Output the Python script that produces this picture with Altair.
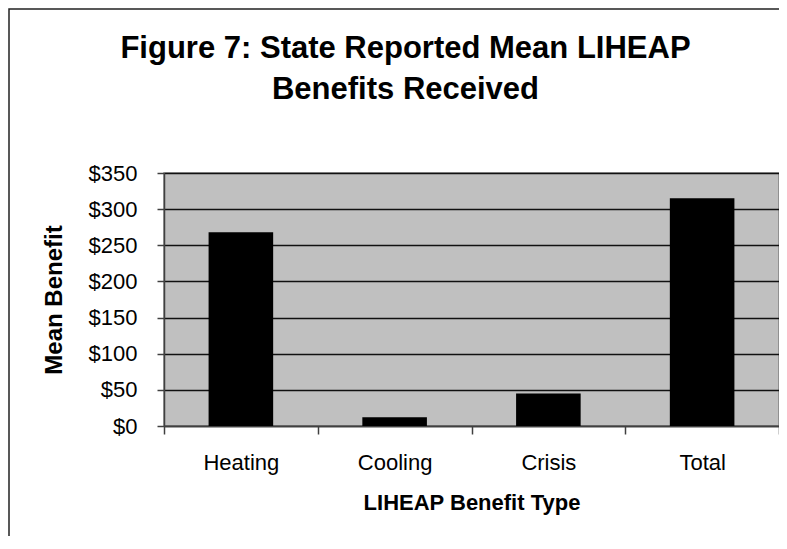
import altair as alt
import pandas as pd

categories = ["Heating", "Cooling", "Crisis", "Total"]
mean_benefit = [268, 12, 45, 315]
y_ticks = [0, 50, 100, 150, 200, 250, 300, 350]
title_lines = ["Figure 7: State Reported Mean LIHEAP", "Benefits Received"]

df = pd.DataFrame({"type": categories, "benefit": mean_benefit})
FONT = "Liberation Sans"

bars = alt.Chart(df).mark_bar(color="black", width=alt.RelativeBandSize(0.42)).encode(
    x=alt.X(
        "type:N",
        sort=categories,
        scale=alt.Scale(paddingInner=0, paddingOuter=0),
        axis=alt.Axis(
            title="LIHEAP Benefit Type",
            labelAngle=0,
            tickBand="extent",
            tickSize=8,
            tickColor="#404040",
            tickWidth=1.5,
            domainColor="#404040",
            domainWidth=1.5,
            labelFont=FONT,
            labelFontSize=22,
            labelColor="black",
            labelPadding=18,
            titleFont=FONT,
            titleFontSize=22,
            titleFontWeight="bold",
            titleColor="black",
            titlePadding=19,
        ),
    ),
    y=alt.Y(
        "benefit:Q",
        scale=alt.Scale(domain=[0, 350], nice=False),
        axis=alt.Axis(
            title="Mean Benefit",
            values=y_ticks,
            format="$.0f",
            tickSize=7,
            tickColor="#404040",
            tickWidth=1.5,
            domainColor="#404040",
            domainWidth=1.5,
            grid=True,
            gridColor="#111111",
            gridWidth=1.3,
            labelFont=FONT,
            labelFontSize=22,
            labelColor="black",
            labelPadding=20,
            titleFont=FONT,
            titleFontSize=24,
            titleFontWeight="bold",
            titleColor="black",
            titlePadding=22,
        ),
    ),
)

frame = alt.Chart(alt.Data(values=[{"f": 1}])).mark_rect(
    fill="transparent", stroke="#222222", strokeWidth=1.5
).encode(
    x=alt.value(-155), x2=alt.value(650), y=alt.value(-164), y2=alt.value(420)
)

chart = alt.layer(bars, frame).properties(
    width=615,
    height=253,
    title=alt.TitleParams(
        text=title_lines,
        font=FONT,
        fontSize=31,
        fontWeight="bold",
        color="black",
        anchor="middle",
        frame="group",
        dx=-66,
        offset=-98,
        lineHeight=41,
    ),
    autosize=alt.AutoSizeParams(type="none"),
    padding={"left": 156, "top": 165, "right": 0, "bottom": 110},
).configure_view(
    fill="#C0C0C0", stroke="#808080", strokeWidth=1.5
)

chart.save("out.html", embed_options={"renderer": "svg", "actions": False})
